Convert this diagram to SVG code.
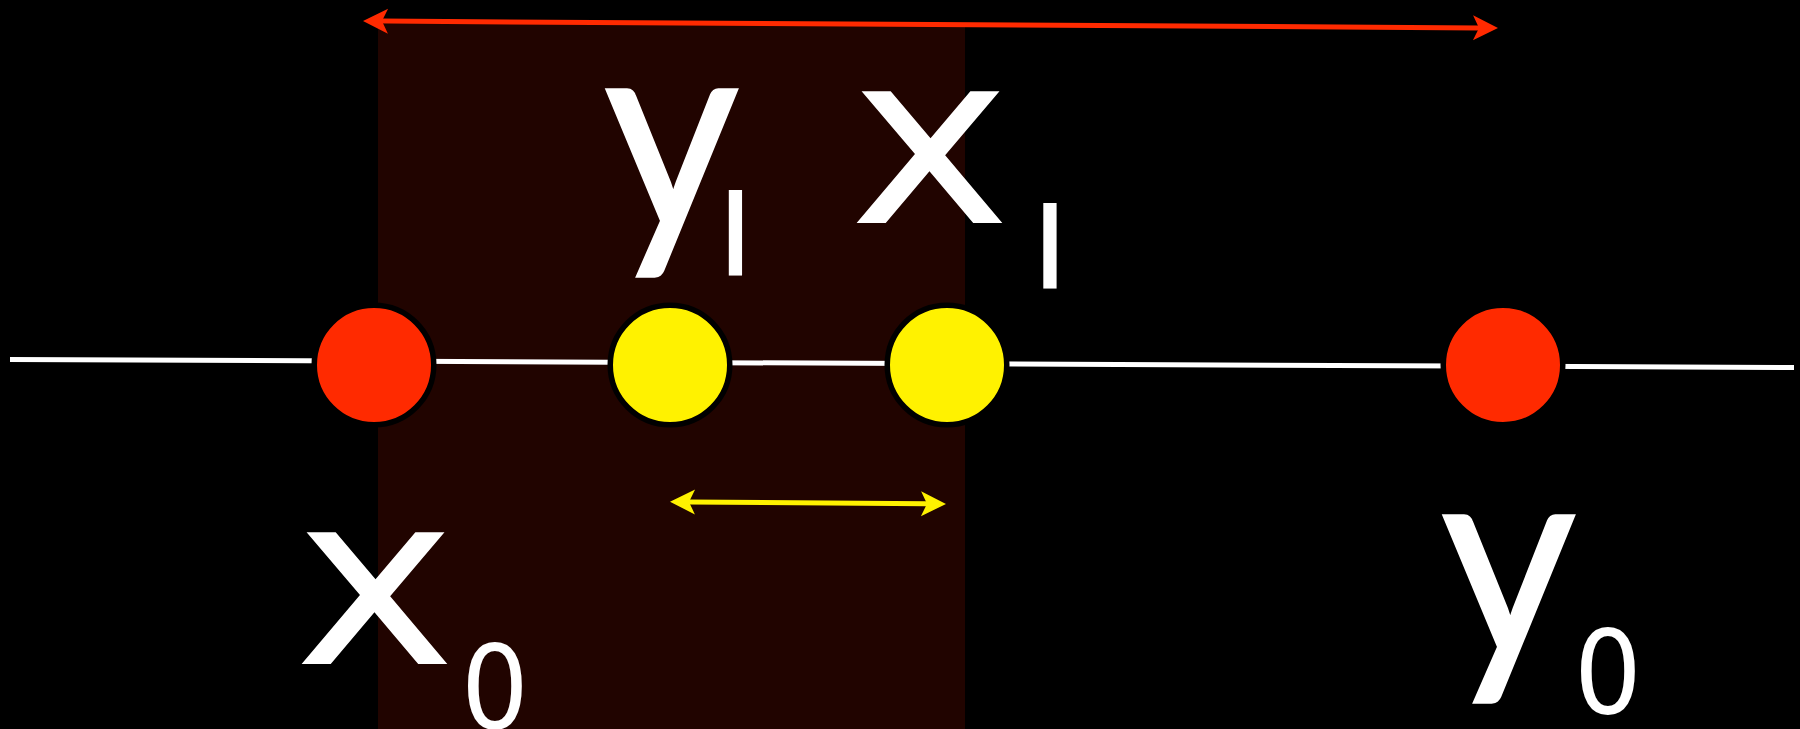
<svg xmlns="http://www.w3.org/2000/svg" width="1800" height="729" viewBox="0 0 1800 729">
  <style>
    .lbl { font-family: "DejaVu Sans", sans-serif; fill: #ffffff; text-anchor: middle; }
    .ly { font-family: Lato, "DejaVu Sans", sans-serif; font-size: 275px; stroke: #ffffff; stroke-width: 3; }
    .main { font-size: 241px; }
    .sub0 { font-size: 116px; }
    .subl { font-size: 113px; }
    .node { stroke: #000000; stroke-width: 5.5; }
    .red { fill: #ff2a00; }
    .yel { fill: #fff200; }
  </style>
  <defs>
    <marker id="arrRed" viewBox="-8 -15 30 30" refX="0" refY="0" markerWidth="30" markerHeight="30" markerUnits="userSpaceOnUse" orient="auto-start-reverse" overflow="visible">
      <path d="M19,0 L-6,-12.5 L0,0 L-6,12.5 Z" fill="#ff2a00"/>
    </marker>
    <marker id="arrYel" viewBox="-8 -15 30 30" refX="0" refY="0" markerWidth="30" markerHeight="30" markerUnits="userSpaceOnUse" orient="auto-start-reverse" overflow="visible">
      <path d="M19,0 L-6,-12.5 L0,0 L-6,12.5 Z" fill="#fff200"/>
    </marker>
  </defs>

  <rect x="0" y="0" width="1800" height="729" fill="#000000"/>
  <rect id="region" x="378" y="24" width="587" height="705" fill="#210400"/>

  <g id="connectors">
    <line id="axis" x1="10" y1="359.5" x2="1794" y2="367.5" stroke="#ffffff" stroke-width="5"/>
    <line id="span-outer" x1="382" y1="21.1" x2="1479" y2="27.9" stroke="#ff2a00" stroke-width="5" marker-start="url(#arrRed)" marker-end="url(#arrRed)"/>
    <line id="span-inner" x1="689" y1="501.9" x2="927" y2="503.8" stroke="#fff200" stroke-width="5" marker-start="url(#arrYel)" marker-end="url(#arrYel)"/>
  </g>

  <g id="node-x0">
    <circle class="node red" cx="374" cy="365" r="59.75"/>
    <g transform="translate(375,664) scale(1.14,1)"><text class="lbl main" x="0" y="0">x</text></g>
    <g transform="translate(495,728) scale(0.92,1)"><text class="lbl sub0" x="0" y="0">0</text></g>
  </g>

  <g id="node-y1">
    <circle class="node yel" cx="670" cy="365" r="59.75"/>
    <g transform="translate(671.5,229) scale(0.95,1)"><text class="lbl ly" x="0" y="0">y</text></g>
    <g transform="translate(735.5,275) scale(1.3,1)"><text class="lbl subl" x="0" y="0">l</text></g>
  </g>

  <g id="node-x1">
    <circle class="node yel" cx="947" cy="365" r="59.75"/>
    <g transform="translate(930,223) scale(1.14,1)"><text class="lbl main" x="0" y="0">x</text></g>
    <g transform="translate(1050,288) scale(1.3,1)"><text class="lbl subl" x="0" y="0">l</text></g>
  </g>

  <g id="node-y0">
    <circle class="node red" cx="1503" cy="365" r="59.75"/>
    <g transform="translate(1508.5,655) scale(0.95,1)"><text class="lbl ly" x="0" y="0">y</text></g>
    <g transform="translate(1608,713) scale(0.92,1)"><text class="lbl sub0" x="0" y="0">0</text></g>
  </g>
</svg>
